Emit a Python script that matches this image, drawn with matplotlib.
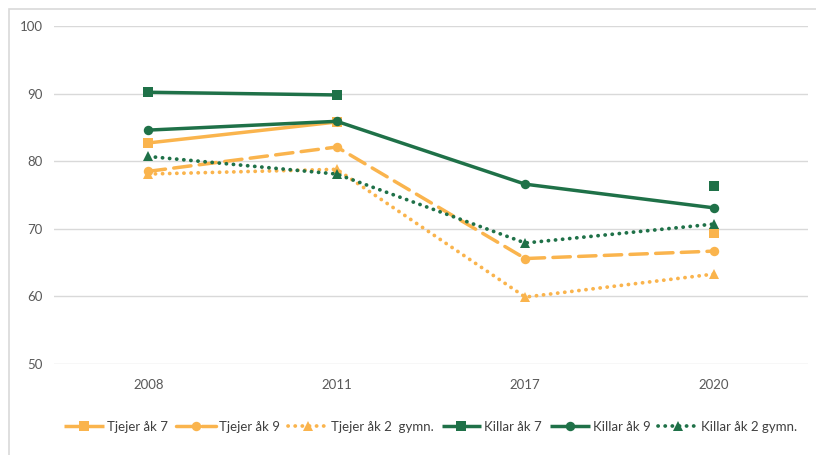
import numpy as np
import matplotlib
matplotlib.use("Agg")
import matplotlib.pyplot as plt
from matplotlib.patches import Rectangle

plt.rcParams['font.family'] = ['Lato', 'DejaVu Sans']

years = ["2008", "2011", "2017", "2020"]
tjejer_ak7 = [82.7, 85.8, np.nan, 69.4]
tjejer_ak9 = [78.5, 82.1, 65.6, 66.7]
tjejer_gymn = [78.1, 78.8, 59.9, 63.3]
killar_ak7 = [90.2, 89.8, np.nan, 76.4]
killar_ak9 = [84.6, 85.9, 76.6, 73.1]
killar_gymn = [80.7, 78.1, 67.9, 70.7]

labels = ["Tjejer åk 7", "Tjejer åk 9", "Tjejer åk 2  gymn.",
          "Killar åk 7", "Killar åk 9", "Killar åk 2 gymn."]

orange = '#FAB44D'
green = '#1F7148'

fig = plt.figure(figsize=(8.16, 4.55), dpi=100)
ax = fig.add_axes([54/816, 1-364/455, (808-54)/816, (364-26)/455])

x = np.arange(len(years))
series = [
    (tjejer_ak7, orange, '-', 's', 2.5),
    (tjejer_ak9, orange, (0, (5.0, 2.4)), 'o', 2.5),
    (tjejer_gymn, orange, (0, (0.05, 1.85)), '^', 2.7),
    (killar_ak7, green, '-', 's', 2.5),
    (killar_ak9, green, '-', 'o', 2.5),
    (killar_gymn, green, (0, (0.05, 1.85)), '^', 2.7),
]
for (vals, col, ls, mk, lw), lab in zip(series, labels):
    ax.plot(x, vals, color=col, linestyle=ls, linewidth=lw, marker=mk,
            markersize=6.8, markeredgewidth=0, label=lab,
            dash_capstyle='round', solid_capstyle='butt')

ax.set_xlim(-0.5, 3.5)
ax.set_ylim(50, 100)
ax.set_yticks([50, 60, 70, 80, 90, 100])
ax.set_xticks(x)
ax.set_xticklabels(years)
ax.grid(axis='y', color='#D9D9D9', linewidth=1)
ax.set_axisbelow(True)
for s in ax.spines.values():
    s.set_visible(False)
ax.tick_params(length=0, labelsize=9.5, labelcolor='#595959', pad=8)
ax.tick_params(axis='x', pad=11)

leg = fig.legend(loc='center', bbox_to_anchor=(431/816, 1-427/455), ncol=6,
                 frameon=False, fontsize=9.5, handlelength=3.0,
                 columnspacing=0.6, handletextpad=0.25)
for t in leg.get_texts():
    t.set_color('#404040')

fig.patches.append(Rectangle((9/816, -0.2), 1.2, 1.2 - 9/455,
                             transform=fig.transFigure, fill=False,
                             edgecolor='#D9D9D9', linewidth=1.2))
fig.savefig('out.png', dpi=100)
